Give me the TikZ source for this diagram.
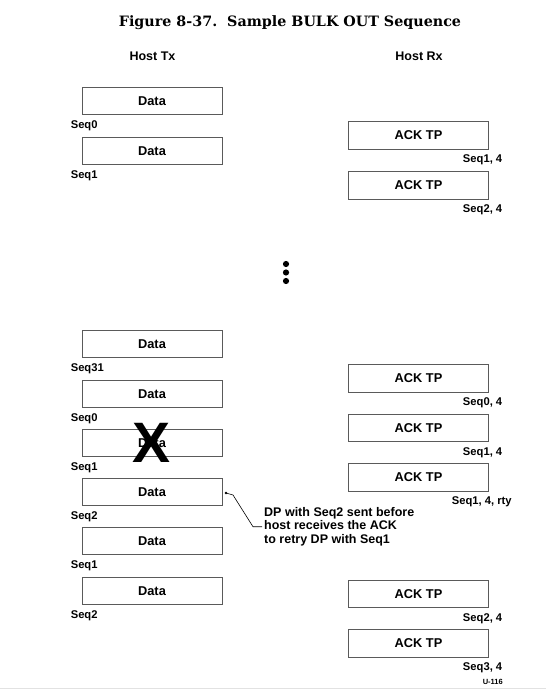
\documentclass[tikz,border=0pt]{standalone}
\usepackage{fontspec}
\setmainfont{Liberation Sans}
\newfontfamily\titlefont{DejaVu Serif}
\usetikzlibrary{arrows.meta,positioning}
\definecolor{boxGray}{HTML}{5A5A5A}
\definecolor{rulePale}{HTML}{E2E2E2}
\tikzset{
  pktbox/.style={draw=boxGray,line width=.8pt,minimum width=140pt,minimum height=27.5pt,inner sep=0pt,font=\fontsize{12.8}{13}\selectfont\bfseries},
  seqlabel/.style={inner sep=0pt,font=\fontsize{11.2}{12}\selectfont\bfseries},
  colhead/.style={inner sep=0pt,anchor=base,font=\fontsize{12.5}{13}\selectfont\bfseries}
}
\begin{document}
\begin{tikzpicture}[x=1pt,y=-1pt,>=Latex]
\useasboundingbox (0,0) rectangle (546,692);
\node[inner sep=0pt,anchor=base,font=\titlefont\fontsize{14.3}{15}\selectfont\bfseries] (title) at (290,26.5) {Figure 8-37.\ \ Sample BULK OUT Sequence};
\node[colhead] (hosttx) at (152.5,61) {Host Tx};
\node[colhead] (hostrx) at (419,61) {Host Rx};
\foreach \i/\y/\seq in {0/101/Seq0,1/151/Seq1,2/344/Seq31,3/394/Seq0,4/443/Seq1,5/492/Seq2,6/541/Seq1,7/591/Seq2}{
  \node[pktbox] (tx\i) at (152,\y) {Data};
  \node[seqlabel,anchor=base west] (txseq\i) at ([xshift=-11pt,yshift=-13pt]tx\i.south west) {\seq};
}
\foreach \i/\y/\seq/\dx in {0/135.5/{Seq1, 4}/13.5,1/185.5/{Seq2, 4}/13.5,2/378.5/{Seq0, 4}/13.5,3/428/{Seq1, 4}/13.5,4/477.5/{Seq1, 4, rty}/23,5/594/{Seq2, 4}/13.5,6/643.5/{Seq3, 4}/13.5}{
  \node[pktbox] (rx\i) at (418.5,\y) {ACK TP};
  \node[seqlabel,anchor=base east] (rxseq\i) at ([xshift=\dx pt,yshift=-13pt]rx\i.south east) {\seq};
}
\foreach \i/\y in {0/264,1/272.5,2/281}{
  \fill (286,\y) circle (3.1pt);
}
\node[inner sep=0pt,font=\fontsize{57}{57}\selectfont\bfseries] (lost) at (tx4) {X};
\fill (226,493) circle (1.4pt) coordinate (tap);
\node[inner sep=0pt,anchor=north west,align=left,font=\fontsize{12.5}{13.2}\selectfont\bfseries] (note) at (264,507.5) {DP with Seq2 sent before\\host receives the ACK\\to retry DP with Seq1};
\draw[line width=.6pt] (tap) -- ++(7,2) -- ([xshift=-11pt]note.west) -- ([xshift=-2pt]note.west);
\node[seqlabel,anchor=base east,font=\fontsize{7.5}{8}\selectfont\bfseries] (figid) at (503,684) {U-116};
\draw[rulePale,line width=1pt] (0,688) -- (546,688);
\end{tikzpicture}
\end{document}
